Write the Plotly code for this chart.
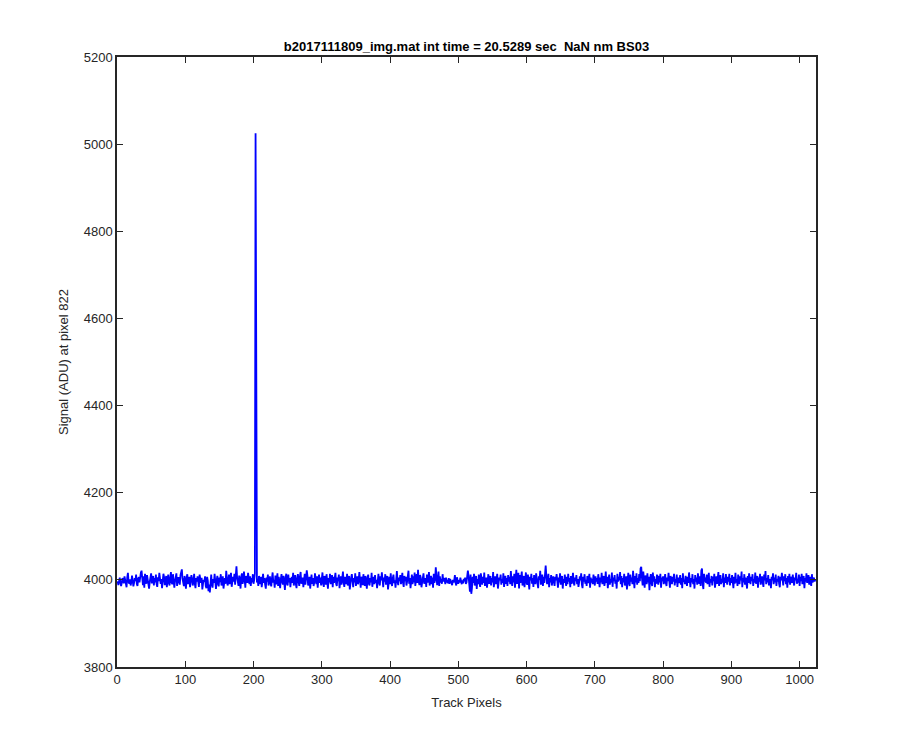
import plotly.graph_objects as go

title_text = "b2017111809_img.mat int time = 20.5289 sec  NaN nm BS03"
x_label = "Track Pixels"
y_label = "Signal (ADU) at pixel 822"
x_ticks = [0, 100, 200, 300, 400, 500, 600, 700, 800, 900, 1000]
y_ticks = [3800, 4000, 4200, 4400, 4600, 4800, 5000, 5200]

signal = [
    3992,3996,3988,3998,4005,3994,3986,3993,4004,3999,3992,4008,3998,3990,3983,4006,4016,3995,3991,4001,3987,3995,4010,3998,3985,3993,4004,3997,4012,3991,3986,4003,
    4006,3994,4013,4017,4021,3997,3988,4008,3982,4014,3998,3991,4011,4003,3986,3980,3996,4006,4015,3992,3999,4009,3987,4004,3994,4012,3990,3984,4006,3997,4016,3995,
    3991,4002,3981,3998,4014,4006,3988,3996,4009,3983,4000,4012,3993,3987,4005,4018,3994,3990,4013,4002,3982,3997,4008,4015,3986,3994,4006,3998,3989,4011,4019,4024,
    4002,3991,3986,4009,3997,3980,4005,4013,3990,3999,4007,3983,3994,4011,4002,3987,3997,4014,3991,3981,4004,3996,4008,3989,3984,4012,3998,3993,4005,3978,3991,4000,
    3996,4008,3986,3981,4007,3998,3974,3989,3971,3994,4012,3990,3982,4002,3993,4014,3989,3979,3999,4009,3991,3985,4005,3995,4013,3987,3997,4008,3980,3996,4004,3991,
    4021,4004,3987,3995,4012,3990,3999,4016,3984,3993,4007,3996,4014,3989,4027,4031,4005,3994,3986,4010,3997,3980,4007,4015,3991,3999,4019,3989,3982,4009,4002,3993,
    4016,3997,3990,4008,3986,4004,3994,4013,3991,4000,4015,5025,4009,3994,4002,3986,4009,3998,3990,4007,3983,3996,4014,3993,4004,3989,3980,4005,3996,4012,3987,3999,
    4008,3991,3985,4004,4017,3994,4000,3982,4010,3990,3997,4015,3986,4007,3993,3981,4002,4013,3996,3989,4009,3998,3977,4005,4014,3991,3987,4012,3994,4004,3983,3999,
    4007,3993,4016,3987,3997,4011,3990,3981,4004,4013,3996,3986,4008,4018,3991,3999,4005,3983,3994,4014,3989,4002,4022,4009,3987,3996,4007,3980,3999,4012,3991,4004,
    3986,3994,4015,3998,3990,4008,3982,4000,4012,3993,4005,3987,3997,4017,3991,3984,4009,4002,3989,4013,3996,3980,4004,3994,4014,3990,3999,4011,3983,4007,3993,4002,
    4016,3991,3986,4005,3997,4012,3981,3996,4008,3989,4002,4019,3994,3984,4007,3999,3990,4014,3987,3996,4009,3978,3999,4005,4013,3991,3983,4004,3994,4015,3986,4000,
    4008,3990,3997,4018,3993,3982,4007,4002,3988,4013,3996,3986,4009,3999,3980,4005,4012,3991,3987,4004,3994,4016,3984,3997,4007,3990,4011,3993,4000,3981,4002,4014,
    3994,3987,4008,3999,4017,3991,3983,4005,3996,4013,3989,4000,4009,3978,3997,4007,3990,4015,3994,3986,4004,4012,3993,3999,3982,4008,4020,3996,3988,4005,3997,4011,
    3990,4002,4016,3993,3984,4009,3997,4007,3987,3996,4014,4021,3991,4004,3981,3999,4012,3990,4008,3994,4017,3986,4002,4013,3993,4023,3997,3988,4011,4005,3983,3999,
    4008,4015,3991,3996,4004,3984,4012,3994,4000,4018,3987,3999,4009,3990,4005,3982,4014,3993,4000,4029,4007,3988,3997,4019,3986,4008,3994,4002,3991,4013,3996,4004,
    3999,3990,4005,3994,4000,3992,4004,3991,4002,3997,3996,3988,4000,3994,3999,4011,3993,3987,4006,4000,3991,3999,3994,4005,3996,3990,3999,3992,4002,3997,4005,3991,
    3994,4016,4021,4009,3986,3973,4012,3968,3981,4007,3993,4014,3987,3996,4009,3979,4002,3990,4012,3994,3984,4015,3998,3989,4007,3993,4017,3986,3997,4005,3982,4000,
    4013,3991,3999,4009,3987,4004,3994,4018,3983,3996,4008,3990,4000,4014,3980,3994,4005,3999,4012,3989,4002,3993,4015,3984,3997,4009,3991,4004,3986,4011,3996,4007,
    3990,4020,3998,3986,4008,3994,4014,3982,4002,4023,3991,3997,4016,3980,4011,3993,4005,4019,3987,3999,4009,3983,4004,4017,3994,3989,4012,3996,3978,4007,3999,4014,
    3991,4004,3984,4011,3997,3990,4015,4005,3994,3981,4008,4000,4021,3989,3996,4012,3986,4007,3993,4017,4033,4009,3990,3999,4014,3983,4004,3994,4011,3987,4000,4008,
    3996,3986,4007,3999,4013,3991,3982,4005,3994,4015,3989,3999,4009,3980,4002,3993,4012,3997,3986,4007,3990,4014,3996,4004,3983,4009,3991,4000,4016,3994,3987,4005,
    3997,4011,3990,4002,3984,3994,4008,3999,4015,3989,3981,4007,3996,4013,3991,4000,3986,4009,3993,3997,4014,3982,4005,3994,4002,3990,4012,3999,3987,4008,3996,4004,
    3991,4013,3999,3983,4005,3994,4016,3990,4000,4009,3986,3996,4019,3993,4007,3981,3999,4012,3989,4002,3994,4017,3984,4005,3997,4011,3991,4000,3980,4014,3996,4007,
    3999,4018,3990,4009,3983,4004,3994,4014,3987,3997,4008,3978,4002,4016,3993,3986,4012,3996,4005,3990,4021,3999,3981,4009,3994,4015,3989,4004,3993,4013,3997,4026,
    4030,4005,3987,4019,3991,3982,4010,3999,3990,4015,3994,4007,3976,4000,4013,3993,3986,4017,3996,4008,3983,4002,3991,4012,3999,3989,4009,3994,4014,3982,4005,3997,
    4008,3990,4000,4013,3993,3986,4005,3997,4016,3991,3982,4009,3999,3990,4007,3996,4014,3987,4002,3994,4012,3984,4005,3993,3999,4011,3989,4004,3981,4015,3996,4000,
    3990,4009,3997,3986,4007,3993,4017,3999,3983,4004,3994,4013,3990,4002,3980,4011,3996,4005,3989,4015,3999,3991,4008,3986,4021,4026,3989,3979,4014,3996,4005,3993,
    4012,3990,3999,4016,3984,4002,3994,4009,3987,4007,3997,4014,3982,3996,4008,3991,4004,4018,3986,3999,4011,3990,4002,3994,4015,3983,4005,3993,4013,3997,3989,4007,
    3996,4014,3987,4004,3993,4011,3999,3981,4007,3991,4016,3994,4002,3986,4012,3996,3990,4008,3999,4019,3983,4004,3994,4013,3989,4005,3997,3980,4009,3993,4015,4000,
    3990,4007,3997,4013,3986,4002,3994,4017,3991,3999,4009,3982,4005,3996,4014,3989,4000,4008,3993,3984,4012,3999,4020,3990,4004,3994,4011,3987,4002,3997,3981,4007,
    3999,4015,3990,4005,3994,4012,3986,4002,3996,4009,3991,3983,4007,3999,4016,3993,3987,4008,3997,4013,3990,4004,3982,4009,3994,4014,3989,4000,4007,3993,4012,3996,
    3987,4005,3999,4016,3991,4002,3994,4012,3986,4007,3997,4014,3990,3999,4009,3981,4004,3996,4015,3993,4000,4011,3989,4007,3997,3986,4013,3994,4002,4005,3996,4001,
]
track_pixels = list(range(len(signal)))

axis_color = "#262626"
font_family = "Liberation Sans, Arial, sans-serif"

fig = go.Figure()
fig.add_trace(go.Scatter(
    x=track_pixels, y=signal, mode="lines",
    line=dict(color="#0000ff", width=1.8),
    showlegend=False, hoverinfo="skip",
))

axis_common = dict(
    showline=True, linecolor=axis_color, linewidth=1.5, mirror="allticks",
    ticks="inside", ticklen=6, tickwidth=1, tickcolor=axis_color,
    showgrid=False, zeroline=False,
    tickfont=dict(family=font_family, size=13, color=axis_color),
)

fig.update_layout(
    width=900, height=750,
    paper_bgcolor="white", plot_bgcolor="white",
    margin=dict(l=109, r=92, t=49, b=91),
    font=dict(family=font_family, color=axis_color),
    title=dict(
        text="<b>" + title_text + "</b>",
        x=0.5, xref="paper", xanchor="center",
        y=1, yref="paper", yanchor="bottom", pad=dict(b=6),
        font=dict(family=font_family, size=13, color="#000000"),
    ),
    xaxis=dict(
        range=[0, 1024], tickvals=x_ticks,
        title=dict(text=x_label, font=dict(family=font_family, size=13, color=axis_color), standoff=12),
        **axis_common,
    ),
    yaxis=dict(
        range=[3800, 5200], tickvals=y_ticks,
        title=dict(text=y_label, font=dict(family=font_family, size=13, color=axis_color), standoff=12),
        **axis_common,
    ),
)

fig.write_html("out.html")
